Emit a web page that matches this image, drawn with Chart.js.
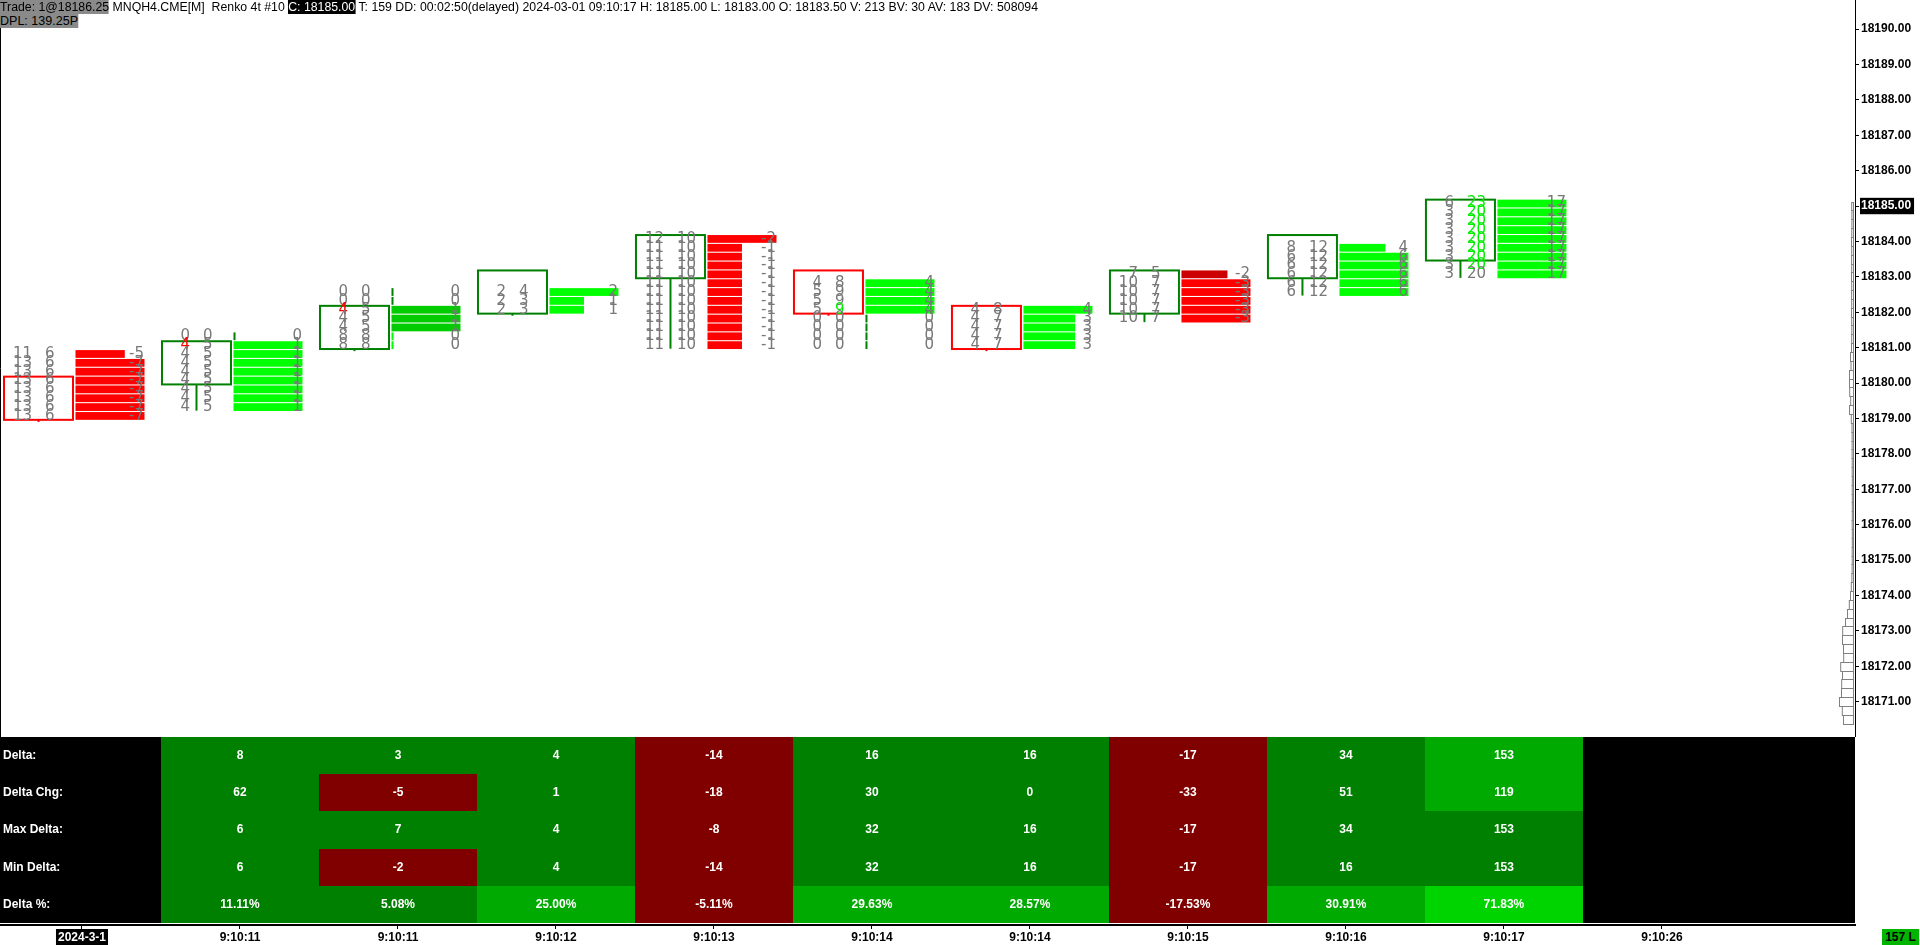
<!DOCTYPE html>
<html>
<head>
<meta charset="utf-8">
<script src="https://cdn.jsdelivr.net/npm/chart.js@4.4.1/dist/chart.umd.min.js"></script>
<style>
    html, body { margin: 0; padding: 0; background: #fff; width: 1920px; height: 945px; overflow: hidden; }
    #priceChart { position: absolute; left: 0; top: 0; }
    #tableChart { position: absolute; left: 0; top: 737px; }
    .hdr { position: absolute; left: 0; font: 12px 'Liberation Sans', Arial, sans-serif; color: #000; white-space: pre; line-height: 14px; transform-origin: 0 0; }
    .hdr .g { background: #8a8a8a; }
    .hdr .k { background: #000; color: #fff; }
    #badge { position: absolute; left: 1882px; top: 929px; width: 37px; height: 16px; background: #00b400; color: #000; font: bold 12px 'Liberation Sans', Arial, sans-serif; line-height: 16px; text-align: center; }
</style>
</head>
<body>
<canvas id="priceChart" width="1920" height="737"></canvas>
<canvas id="tableChart" width="1920" height="208"></canvas>
<div class="hdr" id="hdr1" style="top:0"><span class="g">Trade: 1@18186.25</span> MNQH4.CME[M]  Renko 4t #10 <span class="k">C: 18185.00</span> T: 159 DD: 00:02:50(delayed) 2024-03-01 09:10:17 H: 18185.00 L: 18183.00 O: 18183.50 V: 213 BV: 30 AV: 183 DV: 508094</div>
<div class="hdr" id="hdr2" style="top:14px"><span class="g">DPL: 139.25P</span></div>
<div id="badge">157 L</div>
<script>
// time axis labels, one per bar slot
const timeLabels = ['2024-3-1', '9:10:11', '9:10:11', '9:10:12', '9:10:13', '9:10:14', '9:10:14', '9:10:15', '9:10:16', '9:10:17', '9:10:26'];

// renko footprint bars (top price level of each bar, open, close)
const fpHigh = [18180.75, 18181.25, 18182.5, 18182.5, 18184.0, 18182.75, 18182.0, 18183.0, 18183.75, 18185.0];
const fpOpen = [18180, 18180, 18181, 18182, 18183, 18183, 18182, 18182, 18183, 18183.5];
const fpClose = [18179, 18181, 18182, 18183, 18184, 18182, 18181, 18183, 18184, 18185];

// bid x ask per price level, from the top level down
const fpBid = [
    [11, 13, 13, 13, 13, 13, 13, 13],
    [0, 4, 4, 4, 4, 4, 4, 4, 4],
    [0, 0, 4, 4, 4, 8, 8],
    [2, 2, 2],
    [12, 11, 11, 11, 11, 11, 11, 11, 11, 11, 11, 11, 11],
    [4, 5, 5, 5, 0, 0, 0, 0],
    [4, 4, 4, 4, 4],
    [7, 10, 10, 10, 10, 10],
    [8, 6, 6, 6, 6, 6],
    [6, 3, 3, 3, 3, 3, 3, 3, 3]
];
const fpAsk = [
    [6, 6, 6, 6, 6, 6, 6, 6],
    [0, 5, 5, 5, 5, 5, 5, 5, 5],
    [0, 0, 5, 5, 5, 8, 8],
    [4, 3, 3],
    [10, 10, 10, 10, 10, 10, 10, 10, 10, 10, 10, 10, 10],
    [8, 9, 9, 9, 0, 0, 0, 0],
    [8, 7, 7, 7, 7],
    [5, 7, 7, 7, 7, 7],
    [12, 12, 12, 12, 12, 12],
    [23, 20, 20, 20, 20, 20, 20, 20, 20]
];

// imbalance highlights [bar, level]
const bidRed = [[1, 1], [2, 2]];
const askGreen = [[5, 3], [9, 0], [9, 1], [9, 2], [9, 3], [9, 4], [9, 5], [9, 6], [9, 7]];
const dimBars = [[2, 2], [2, 3], [2, 4], [7, 0]];

// bottom stats table
const rowNames = ['Delta:', 'Delta Chg:', 'Max Delta:', 'Min Delta:', 'Delta %:'];
const deltaVals = [8, 3, 4, -14, 16, 16, -17, 34, 153];
const deltaChg = [62, -5, 1, -18, 30, 0, -33, 51, 119];
const maxDelta = [6, 7, 4, -8, 32, 16, -17, 34, 153];
const minDelta = [6, -2, 4, -14, 32, 16, -17, 16, 153];
const deltaPct = [11.11, 5.08, 25.00, -5.11, 29.63, 28.57, -17.53, 30.91, 71.83];

// volume profile on the price axis, from 18185.00 down by one tick
const profileTop = 18185.0;
const profileVol = [
    18, 16, 16, 17, 20, 18, 19, 18, 20, 18, 19, 18, 20, 18, 17, 18, 20,
    30, 25, 40, 40, 38, 28, 40, 22,
    15, 14, 14, 14, 13, 13, 12, 13, 12, 12, 12, 13, 12, 12, 13, 13, 14, 16,
    22, 30, 42, 60, 80, 108, 110, 100, 98, 128, 110, 118, 120, 140, 112, 100
];

const lastPrice = 18185.00;
const TICK = 0.25;

const numFont = '15px "DejaVu Sans", sans-serif';
const numGray = '#787878';
const axisFont = { family: 'Liberation Sans', size: 12, weight: 'bold' };

function has(list, i, j) {
    return list.some(p => p[0] === i && p[1] === j);
}

const footprintPlugin = {
    id: 'footprint',
    afterDatasetsDraw(chart) {
        const { ctx, chartArea } = chart;
        const x = chart.scales.x, y = chart.scales.y;
        ctx.save();

        // left border
        ctx.strokeStyle = '#000';
        ctx.lineWidth = 1;
        ctx.beginPath();
        ctx.moveTo(chartArea.left + 0.5, chartArea.top);
        ctx.lineTo(chartArea.left + 0.5, chartArea.bottom);
        ctx.stroke();

        // volume profile hugging the price axis
        const maxVol = Math.max(...profileVol);
        ctx.strokeStyle = '#808080';
        ctx.fillStyle = '#fff';
        profileVol.forEach((v, j) => {
            const p = profileTop - TICK * j;
            const w = Math.max(1, v / maxVol * 14);
            const t = Math.round(y.getPixelForValue(p + TICK / 2)) + 0.5;
            const b = Math.round(y.getPixelForValue(p - TICK / 2)) + 0.5;
            const r = chartArea.right - 1.5;
            ctx.fillRect(r - w, t, w, b - t);
            ctx.strokeRect(r - w, t, w, b - t);
        });

        fpHigh.forEach((high, i) => {
            const L = x.getPixelForValue(i - 0.5);
            const bid = fpBid[i], ask = fpAsk[i];
            const delta = bid.map((b, j) => ask[j] - b);
            const maxAbs = Math.max(...delta.map(Math.abs)) || 1;
            const traded = bid.map((b, j) => b + ask[j] > 0);
            const hiIdx = traded.indexOf(true);
            const loIdx = traded.lastIndexOf(true);
            const hi = high - TICK * hiIdx, lo = high - TICK * loIdx;
            const up = fpClose[i] >= fpOpen[i];
            const col = up ? '#008000' : '#ff0000';

            const boxTopP = Math.max(fpOpen[i], fpClose[i]) + 0.18;
            const boxBotP = Math.min(fpOpen[i], fpClose[i]) - 0.04;
            const boxTop = y.getPixelForValue(boxTopP);
            const boxBot = y.getPixelForValue(boxBotP);
            const cx = L + 35.5;

            // wick
            ctx.strokeStyle = col;
            ctx.lineWidth = 2;
            ctx.beginPath();
            ctx.moveTo(cx, y.getPixelForValue(Math.min(hi + 0.07, boxTopP)));
            ctx.lineTo(cx, y.getPixelForValue(Math.min(lo - 0.03, boxBotP - 0.06)));
            ctx.stroke();

            // body
            ctx.fillStyle = '#fff';
            ctx.fillRect(L + 1, boxTop, 69, boxBot - boxTop);
            ctx.strokeRect(L + 1, boxTop, 69, boxBot - boxTop);

            // delta histogram
            delta.forEach((d, j) => {
                const p = high - TICK * j;
                const t = y.getPixelForValue(p + 0.18);
                const b = y.getPixelForValue(p - 0.04);
                let w = Math.abs(d) / maxAbs * 69;
                let c;
                if (d > 0) c = has(dimBars, i, j) ? '#00cc00' : '#00ff00';
                else if (d < 0) c = has(dimBars, i, j) ? '#cc0000' : '#ff0000';
                else { c = traded[j] ? '#00ff00' : '#008000'; w = 2; }
                ctx.fillStyle = c;
                ctx.fillRect(L + 72.5, t, w, b - t);
            });

            // numbers
            ctx.font = numFont;
            ctx.textBaseline = 'middle';
            delta.forEach((d, j) => {
                const p = high - TICK * j;
                const yc = y.getPixelForValue(p + 0.07);
                ctx.textAlign = 'right';
                ctx.fillStyle = has(bidRed, i, j) ? '#ff0000' : numGray;
                ctx.fillText(String(bid[j]), L + 29, yc);
                ctx.textAlign = 'left';
                ctx.fillStyle = has(askGreen, i, j) ? '#00ee00' : numGray;
                ctx.fillText(String(ask[j]), L + 42, yc);
                ctx.textAlign = 'right';
                ctx.fillStyle = numGray;
                ctx.fillText(String(d), L + 141, yc);
            });
        });
        ctx.restore();
    }
};

function cellColor(r, v) {
    if (v < 0) return '#800000';
    if (r === 4) {
        if (v >= 50) return '#00d400';
        if (v >= 20) return '#00aa00';
        return '#008000';
    }
    if (r <= 1 && v >= 100) return '#00aa00';
    return '#008000';
}

const tablePlugin = {
    id: 'statsTable',
    beforeDatasetsDraw(chart) {
        const { ctx, chartArea } = chart;
        const x = chart.scales.x, y = chart.scales.y;
        const rows = [deltaVals, deltaChg, maxDelta, minDelta, deltaPct];
        ctx.save();
        const top = Math.round(y.getPixelForValue(0));
        const bottom = Math.round(y.getPixelForValue(rows.length));
        ctx.fillStyle = '#000';
        ctx.fillRect(chartArea.left, top, chartArea.right - chartArea.left, bottom - top);

        ctx.font = 'bold 12px "Liberation Sans", Arial, sans-serif';
        ctx.textBaseline = 'middle';
        rows.forEach((vals, r) => {
            const y0 = Math.round(y.getPixelForValue(r));
            const y1 = Math.round(y.getPixelForValue(r + 1));
            const ym = y.getPixelForValue(r + 0.5);
            ctx.fillStyle = '#fff';
            ctx.textAlign = 'left';
            ctx.fillText(rowNames[r], 3, ym);
            vals.forEach((v, c) => {
                const x0 = Math.round(x.getPixelForValue(c + 0.5));
                const x1 = Math.round(x.getPixelForValue(c + 1.5));
                ctx.fillStyle = cellColor(r, v);
                ctx.fillRect(x0, y0, x1 - x0, y1 - y0);
                ctx.fillStyle = '#fff';
                ctx.textAlign = 'center';
                const txt = r === 4 ? v.toFixed(2) + '%' : String(v);
                ctx.fillText(txt, x.getPixelForValue(c + 1), ym);
            });
        });
        ctx.restore();
    }
};

const whiteBg = {
    id: 'whiteBg',
    beforeDraw(chart) {
        const ctx = chart.ctx;
        ctx.save();
        ctx.fillStyle = '#fff';
        ctx.fillRect(0, 0, chart.width, chart.height);
        ctx.restore();
    }
};

const slotMin = -0.519;
const slotMax = 11.222;

new Chart(document.getElementById('priceChart'), {
    type: 'scatter',
    data: { datasets: [] },
    options: {
        responsive: false,
        animation: false,
        devicePixelRatio: 1,
        layout: { padding: 0 },
        plugins: { legend: { display: false }, tooltip: { enabled: false } },
        scales: {
            x: { type: 'linear', display: false, min: slotMin, max: slotMax },
            y: {
                type: 'linear',
                position: 'right',
                min: 18170.0,
                max: 18190.82,
                afterBuildTicks(s) {
                    s.ticks = s.ticks.filter(t => t.value > 18170.5 && t.value < 18190.5);
                },
                afterFit(s) {
                    s.width = 65;
                    s.paddingTop = 0;
                    s.paddingBottom = 0;
                },
                grid: { drawOnChartArea: false, drawTicks: true, tickLength: 4, color: '#000' },
                border: { display: true, color: '#000', width: 1 },
                ticks: {
                    stepSize: 1,
                    includeBounds: false,
                    padding: 2,
                    font: axisFont,
                    callback: v => Number(v).toFixed(2),
                    color: c => c.tick && c.tick.value === lastPrice ? '#fff' : '#000',
                    showLabelBackdrop: true,
                    backdropColor: c => c.tick && c.tick.value === lastPrice ? '#000' : 'rgba(0,0,0,0)',
                    backdropPadding: { top: 1, bottom: 1, left: 1, right: 3 }
                }
            }
        }
    },
    plugins: [whiteBg, footprintPlugin]
});

new Chart(document.getElementById('tableChart'), {
    type: 'scatter',
    data: { datasets: [] },
    options: {
        responsive: false,
        animation: false,
        devicePixelRatio: 1,
        layout: { padding: { right: 65 } },
        plugins: { legend: { display: false }, tooltip: { enabled: false } },
        scales: {
            x: {
                type: 'linear',
                position: 'bottom',
                min: slotMin,
                max: slotMax,
                afterBuildTicks(s) {
                    s.ticks = timeLabels.map((_, i) => ({ value: i }));
                },
                afterFit(s) {
                    s.height = 20;
                    s.paddingLeft = 0;
                    s.paddingRight = 0;
                },
                grid: { drawOnChartArea: false, drawTicks: true, tickLength: 4, color: '#000' },
                border: { display: true, color: '#000', width: 2 },
                ticks: {
                    autoSkip: false,
                    maxRotation: 0,
                    padding: 1,
                    font: axisFont,
                    callback: (v, i) => timeLabels[i],
                    color: c => c.index === 0 ? '#fff' : '#000',
                    showLabelBackdrop: true,
                    backdropColor: c => c.index === 0 ? '#000' : 'rgba(0,0,0,0)',
                    backdropPadding: { top: 1, bottom: 1, left: 2, right: 2 }
                }
            },
            y: { type: 'linear', display: false, reverse: true, min: 0, max: 5.05 }
        }
    },
    plugins: [whiteBg, tablePlugin]
});

// squeeze the header lines to the reference widths
function fitHeader(id, target) {
    const el = document.getElementById(id);
    const w = el.getBoundingClientRect().width;
    el.style.transform = 'scaleX(' + (target / w) + ')';
}
fitHeader('hdr1', 1038);
fitHeader('hdr2', 78);
</script>
</body>
</html>
